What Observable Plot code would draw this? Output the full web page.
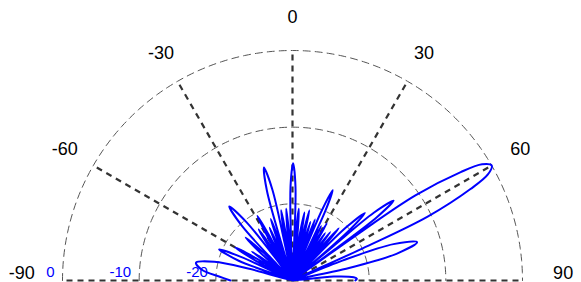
<!DOCTYPE html>
<html>
<head>
<meta charset="utf-8">
<script src="https://cdn.jsdelivr.net/npm/d3@7"></script>
<script src="https://cdn.jsdelivr.net/npm/@observablehq/plot@0.6"></script>
<style>
  html, body { margin: 0; padding: 0; background: #ffffff; }
  #chart svg { display: block; }
</style>
</head>
<body>
<div id="chart"></div>
<script>
// Angular tick labels (degrees) and radial ring levels (dB)
const angleTicks = [-90, -60, -30, 0, 30, 60, 90];
const ringLevels = [0, -10, -20];
const ringLabels = ["0", "-10", "-20"];
const rMin = -30; // dB at the centre

// Antenna pattern: angle (deg) and gain (dB)
const patternAngle = [
  -90, -87, -83.5, -79.5, -76.5, -74.8, -73.5,
  -69.9, -67, -65.4, -63.5,
  -61.6, -60, -58.6, -57.2,
  -55.7, -54.5, -53.2, -51.5,
  -49.3, -47.5, -46.2, -44.5,
  -44, -42.8, -40.5, -38.3, -37.2, -36.7,
  -34.9, -33.5, -32.3, -31,
  -29.6, -28.5, -27.4, -26,
  -24.6, -23.5, -22.6, -21.5,
  -20.4, -19.5, -18.4, -17,
  -16.6, -15.9, -14.2, -12.5, -11.9, -11.5,
  -10.2, -9.2, -8.2, -7,
  -5.9, -5, -4.2, -2.5,
  -2.1, -1.2, 0.3, 1.8, 2.5, 2.8,
  4, 5, 6.1, 7.5,
  8.9, 10, 10.8, 11.8,
  12.7, 13.5, 14.3, 15.3,
  16.2, 17, 17.7, 18.6,
  19.5, 20.2, 20.9, 21.8,
  22.1, 22.7, 24, 25.3, 25.9, 26.3,
  27.1, 27.8, 28.6, 29.5,
  30.3, 31, 31.8, 32.8,
  33.8, 34.6, 35.4, 36.3,
  37.2, 38, 38.8, 39.8,
  40.7, 41.5, 42.5, 44,
  44.5, 45.3, 47, 48.5, 49.1, 49.5,
  49.9, 50.2, 51.7, 53.1, 53.7, 54,
  54.6, 55.3, 57.2, 58.5, 60, 61.5, 62.8, 64.7, 65.4, 66,
  68.3, 70.2, 72.9, 75.6, 77.7, 80,
  84.5, 87, 88.5, 90
];
const patternGain = [
  -21.9, -20.5, -18.2, -17.2, -19.5, -24, -40,
  -22.6, -19.6, -22.6, -40,
  -24.4, -21.4, -24.4, -40,
  -26.5, -23.5, -26.5, -40,
  -24.7, -21.7, -24.7, -40,
  -27.3, -20.3, -17.3, -20.3, -27.3, -40,
  -25, -22, -25, -40,
  -23.4, -20.4, -23.4, -40,
  -25.5, -22.5, -25.5, -40,
  -24.5, -21.5, -24.5, -40,
  -24.8, -17.8, -14.8, -17.8, -24.8, -40,
  -23.7, -20.7, -23.7, -40,
  -23.6, -20.6, -23.6, -40,
  -24.7, -17.7, -14.7, -17.7, -24.7, -40,
  -23.6, -20.6, -23.6, -40,
  -24, -21, -24, -40,
  -23.6, -20.6, -23.6, -40,
  -25, -22, -25, -40,
  -24.5, -21.5, -24.5, -40,
  -27.1, -20.1, -17.1, -20.1, -27.1, -40,
  -25, -22, -25, -40,
  -24.3, -21.3, -24.3, -40,
  -25.5, -22.5, -25.5, -40,
  -25, -22, -25, -40,
  -23.9, -20.9, -23.9, -40,
  -27.1, -20.1, -17.1, -20.1, -27.1, -40,
  -23.2, -16.2, -13.2, -16.2, -23.2, -40,
  -20, -10.5, -3.9, -1, 0, -1, -3.9, -10.5, -20, -40,
  -23, -16, -13, -16, -23, -40,
  -24.6, -22, -21.6, -21.8
];

const rad = (d) => d * Math.PI / 180;
const radius = (g) => Math.max(0, g - rMin); // radial distance in dB above the centre
const px = (a, g) => radius(g) * Math.sin(rad(a));
const py = (a, g) => radius(g) * Math.cos(rad(a));

const pattern = patternAngle.map((a, i) => ({angle: a, gain: patternGain[i]}));

// ring arcs (geometry of the grid at each ring level)
const arcSteps = d3.range(-90, 90.001, 1);
const rings = ringLevels.flatMap((lvl) => arcSteps.map((a) => ({level: lvl, angle: a})));

const spokes = angleTicks.map((a) => ({angle: a}));
const labelR = 34.3;
const mainLabels = angleTicks.filter((a) => Math.abs(a) !== 90).map((a) => ({angle: a}));
const sideLabels = angleTicks.filter((a) => Math.abs(a) === 90).map((a) => ({angle: a}));
const ringText = ringLevels.map((lvl, i) => ({level: lvl, label: ringLabels[i]}));

const chart = Plot.plot({
  width: 581,
  height: 282,
  marginLeft: 62,
  marginRight: 59,
  marginTop: 50,
  marginBottom: 2,
  x: {domain: [-30, 30], axis: null},
  y: {domain: [0, 30], axis: null},
  style: {fontFamily: "'Liberation Sans', Arial, Helvetica, sans-serif", background: "#ffffff", overflow: "visible"},
  marks: [
    Plot.line(rings, {
      x: (d) => px(d.angle, d.level), y: (d) => py(d.angle, d.level), z: "level",
      stroke: "#555", strokeWidth: 1, strokeDasharray: "7,5", clip: false
    }),
    Plot.link(spokes, {
      x1: 0, y1: 0,
      x2: (d) => px(d.angle, 0), y2: (d) => py(d.angle, 0),
      stroke: "#333", strokeWidth: 2.2, strokeDasharray: "6,5", clip: false
    }),
    Plot.line(pattern, {
      x: (d) => px(d.angle, d.gain), y: (d) => py(d.angle, d.gain),
      curve: "catmull-rom", stroke: "#0000ff", strokeWidth: 2, clip: false
    }),
    Plot.text(mainLabels, {
      x: (d) => labelR * Math.sin(rad(d.angle)), y: (d) => labelR * Math.cos(rad(d.angle)),
      text: (d) => String(d.angle), fontSize: 18, fill: "#000", clip: false
    }),
    Plot.text(sideLabels, {
      x: (d) => 35.3 * Math.sin(rad(d.angle)), y: 0,
      text: (d) => String(d.angle), fontSize: 18, fill: "#000", dy: -7, clip: false
    }),
    Plot.text(ringText, {
      x: (d) => -radius(d.level), y: 0, text: "label",
      textAnchor: "end", dx: -8, dy: -8, fontSize: 15, fill: "#0000ff", clip: false
    })
  ]
});
document.getElementById("chart").appendChild(chart);
</script>
</body>
</html>
